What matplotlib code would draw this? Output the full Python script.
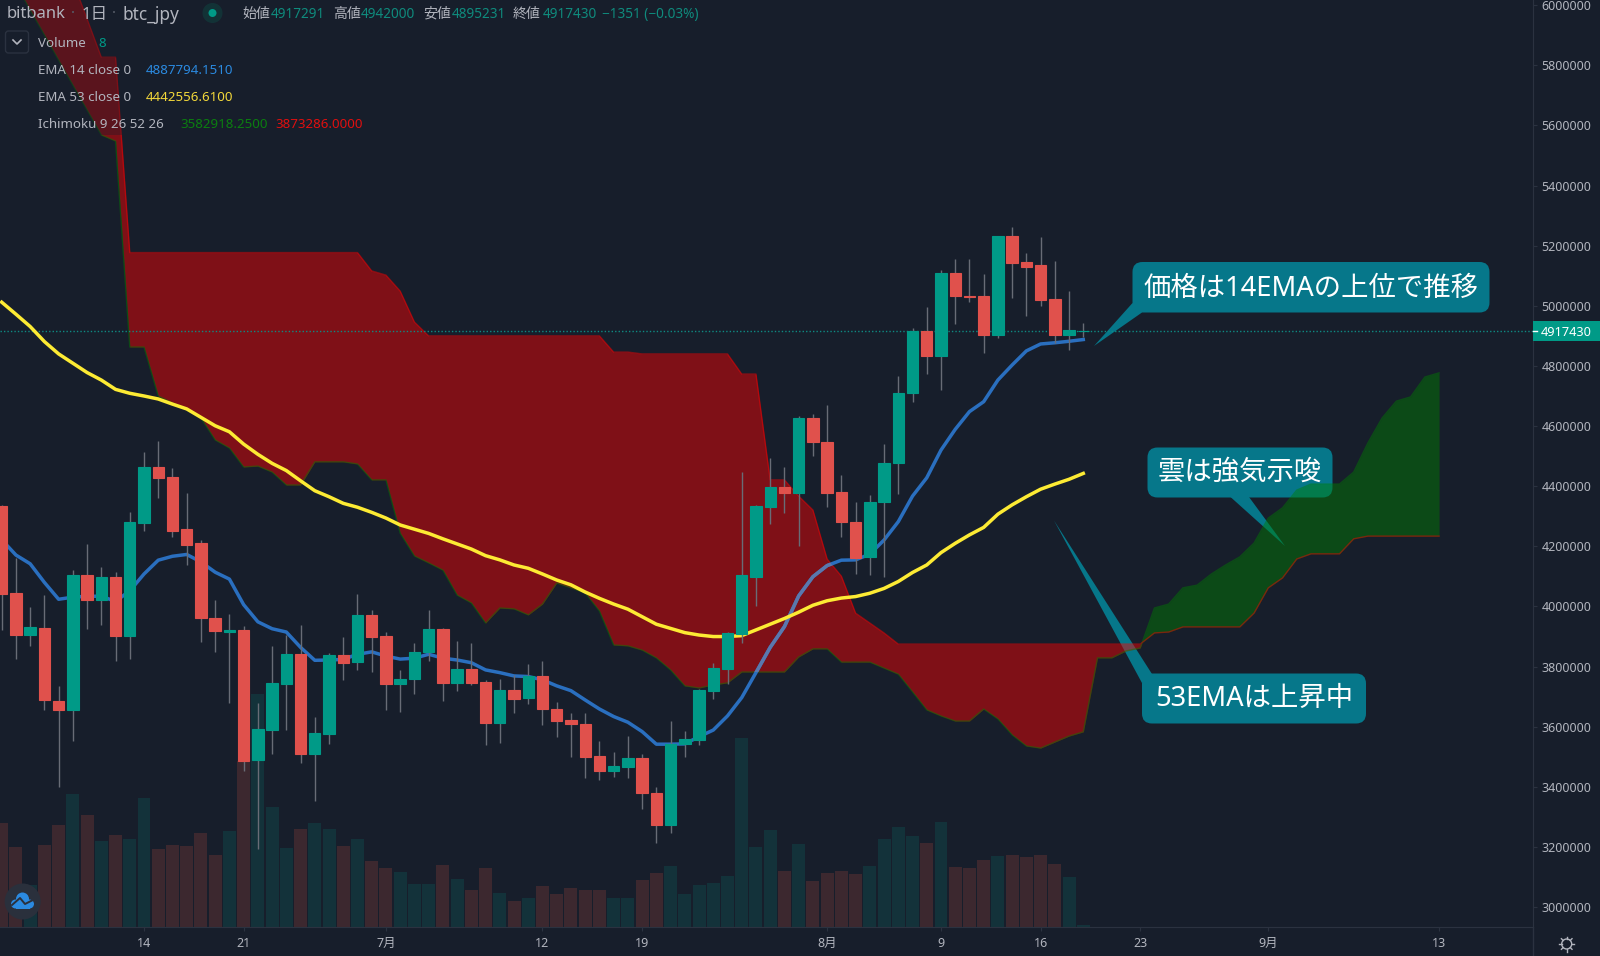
import numpy as np
import matplotlib
matplotlib.use('Agg')
import matplotlib.pyplot as plt
from matplotlib.patches import Circle, FancyBboxPatch, Polygon, Rectangle
from matplotlib.transforms import Affine2D

plt.rcParams['font.family'] = ['Noto Sans', 'Noto Sans CJK JP', 'DejaVu Sans']

# days counted from 14 June, prices in thousand yen
days = np.arange(-10, 67)
opens = [4333, 4046, 3905, 3929, 3685, 3656, 4105, 4022, 4099, 3901,
         4277, 4464, 4429, 4256, 4210, 3963, 3915, 3921, 3489, 3588,
         3743, 3843, 3508, 3576, 3840, 3816, 3971, 3901, 3742, 3758,
         3850, 3924, 3745, 3791, 3749, 3611, 3722, 3695, 3770, 3658,
         3623, 3610, 3503, 3454, 3467, 3495, 3380, 3273, 3543, 3556,
         3719, 3791, 3909, 4099, 4332, 4396, 4377, 4626, 4548, 4380,
         4280, 4166, 4348, 4476, 4711, 4916, 4834, 5108, 5033, 5032,
         4903, 5233, 5146, 5135, 5023, 4903, 4917.291]
highs = [4338, 4160, 3998, 4038, 3735, 4120, 4207, 4131, 4114, 4315,
         4515, 4550, 4461, 4378, 4222, 4020, 3974, 3934, 3679, 3867,
         3904, 3938, 3631, 3845, 3900, 4042, 3988, 3915, 3790, 3877,
         3988, 3930, 3886, 3877, 3756, 3759, 3772, 3809, 3818, 3681,
         3645, 3645, 3551, 3517, 3569, 3508, 3401, 3618, 3586, 3725,
         3811, 3914, 4448, 4338, 4495, 4463, 4634, 4639, 4669, 4437,
         4346, 4370, 4542, 4766, 4925, 4995, 5119, 5155, 5156, 5106,
         5233, 5261, 5175, 5228, 5149, 5049, 4942]
lows = [3921, 3826, 3870, 3657, 3398, 3551, 3924, 3940, 3818, 3824,
        4250, 4362, 4230, 4139, 3881, 3849, 3679, 3452, 3194, 3508,
        3590, 3480, 3353, 3544, 3754, 3788, 3783, 3656, 3650, 3709,
        3817, 3685, 3720, 3739, 3539, 3547, 3645, 3675, 3606, 3567,
        3501, 3429, 3423, 3432, 3430, 3328, 3215, 3246, 3501, 3538,
        3691, 3742, 3877, 4000, 4273, 4310, 4201, 4500, 4332, 4232,
        4108, 4104, 4099, 4373, 4680, 4773, 4720, 4941, 5014, 4842,
        4892, 5027, 4966, 4999, 4875, 4853, 4895.231]
closes = [4042, 3905, 3931, 3690, 3656, 4105, 4020, 4099, 3901, 4280,
          4464, 4427, 4252, 4206, 3961, 3919, 3921, 3486, 3591, 3745,
          3843, 3508, 3578, 3840, 3813, 3971, 3897, 3743, 3759, 3850,
          3924, 3747, 3791, 3747, 3611, 3722, 3692, 3770, 3658, 3620,
          3610, 3501, 3454, 3470, 3495, 3378, 3273, 3544, 3558, 3721,
          3794, 3911, 4104, 4334, 4396, 4377, 4626, 4548, 4379, 4280,
          4162, 4346, 4476, 4711, 4916, 4834, 5108, 5032, 5029, 4903,
          5233, 5143, 5130, 5018, 4903, 4918, 4917.43]
volumes = [104, 80, 42, 82, 102, 133, 112, 86, 92, 88,
           129, 78, 82, 81, 94, 72, 96, 166, 233, 120,
           79, 98, 104, 98, 81, 88, 66, 59, 55, 43,
           43, 62, 48, 37, 59, 34, 26, 29, 41, 33,
           39, 37, 37, 29, 29, 47, 54, 61, 33, 42,
           44, 51, 189, 80, 97, 56, 83, 46, 54, 56,
           53, 61, 88, 100, 91, 84, 105, 60, 59, 67,
           71, 72, 70, 72, 63, 50, 2]
ema14 = [4222, 4171, 4142, 4080, 4024, 4031, 4034, 4034, 4017, 4052,
         4108, 4154, 4167, 4173, 4148, 4114, 4091, 4006, 3949, 3926,
         3915, 3864, 3821, 3822, 3824, 3841, 3849, 3835, 3825, 3828,
         3841, 3828, 3822, 3813, 3789, 3780, 3769, 3767, 3756, 3736,
         3720, 3689, 3659, 3634, 3615, 3584, 3542, 3542, 3543, 3567,
         3589, 3636, 3697, 3780, 3864, 3933, 4035, 4099, 4136, 4154,
         4155, 4174, 4221, 4282, 4367, 4428, 4520, 4589, 4648, 4681,
         4753, 4803, 4850, 4873, 4877, 4882, 4887.794]
ema53 = [5012, 4972, 4931, 4881, 4840, 4809, 4778, 4753, 4722, 4709,
         4700, 4690, 4673, 4657, 4629, 4601, 4581, 4540, 4506, 4476,
         4452, 4418, 4385, 4365, 4343, 4330, 4313, 4294, 4271, 4257,
         4243, 4225, 4208, 4191, 4169, 4155, 4138, 4127, 4108, 4088,
         4072, 4048, 4027, 4008, 3991, 3966, 3941, 3927, 3913, 3905,
         3900, 3900, 3903, 3922, 3941, 3960, 3981, 4004, 4019, 4028,
         4033, 4044, 4060, 4083, 4113, 4138, 4179, 4210, 4238, 4263,
         4307, 4338, 4365, 4390, 4407, 4423, 4442.556]

cloud_days = np.arange(-9, 92)
span_a = [6067, 5984, 5901, 5817, 5734, 5651, 5568, 5548, 4863,
          4863, 4700, 4677, 4657, 4627, 4554, 4527, 4464, 4467, 4447,
          4404, 4404, 4481, 4481, 4481, 4474, 4421, 4421, 4244, 4168,
          4145, 4121, 4038, 4012, 3945, 3995, 3992, 3972, 4008, 4078,
          4062, 4045, 3985, 3872, 3869, 3855, 3829, 3789, 3736, 3729,
          3739, 3746, 3782, 3782, 3782, 3782, 3832, 3859, 3859, 3815,
          3815, 3815, 3795, 3775, 3716, 3656, 3636, 3619, 3619, 3659,
          3626, 3573, 3536, 3529, 3549, 3569, 3583, 3829, 3829, 3852,
          3862, 3995, 4008, 4062, 4071, 4108, 4138, 4165, 4211, 4294,
          4328, 4387, 4407, 4407, 4407, 4447, 4544, 4627, 4683, 4697,
          4763, 4777]
span_b = [6616, 6483, 6350, 6217, 6080, 5954, 5827, 5827, 5177,
          5177, 5177, 5177, 5177, 5177, 5177, 5177, 5177, 5177, 5177,
          5177, 5177, 5177, 5177, 5177, 5177, 5116, 5102, 5049, 4946,
          4900, 4900, 4900, 4900, 4900, 4900, 4900, 4900, 4900, 4900,
          4900, 4900, 4900, 4846, 4846, 4840, 4840, 4840, 4840, 4840,
          4840, 4840, 4773, 4773, 4421, 4421, 4367, 4321, 4158, 4101,
          3978, 3945, 3912, 3875, 3875, 3875, 3875, 3875, 3875, 3875,
          3875, 3875, 3875, 3875, 3875, 3875, 3875, 3875, 3875, 3875,
          3875, 3912, 3915, 3932, 3932, 3932, 3932, 3932, 3978, 4062,
          4095, 4158, 4175, 4175, 4175, 4225, 4234, 4234, 4234, 4234,
          4234, 4234]

y_ticks = np.arange(3000, 6001, 200)
x_ticks = [0, 7, 17, 28, 35, 48, 56, 63, 70, 79, 91]
x_labels = ['14', '21', '7月', '12', '19', '8月', '9', '16', '23', '9月', '13']

BG = '#171e2b'
GREEN = '#009a87'
RED = '#e0514c'
TEXT = '#b2b5be'
GRID = '#2b3240'
CALLOUT = '#06778a'

to_yen = lambda v: np.asarray(v, dtype=float) * 1000
opens, highs, lows, closes = map(to_yen, (opens, highs, lows, closes))
ema14, ema53, span_a, span_b = map(to_yen, (ema14, ema53, span_a, span_b))
up = closes >= opens

fig = plt.figure(figsize=(16, 9.56), dpi=100, facecolor=BG)
rect = [0, 29 / 956, 1533 / 1600, 927 / 956]
xlim = (-10.12, 97.6)

# volume sits in its own axes behind the price axes
ax_vol = fig.add_axes(rect)
ax_vol.axis('off')
ax_vol.bar(days, volumes, width=0.91, color=np.where(up, '#13323a', '#3c282f'))
ax_vol.set_xlim(xlim)
ax_vol.set_ylim(0, 927)

ax = fig.add_axes(rect)
ax.patch.set_visible(False)
ax.set_xlim(xlim)
ax.set_ylim(2934000, 6017000)

# pixel coordinates for the interface parts, origin top left
px = Affine2D().scale(1, -1).translate(0, 956)

callouts = [
    ((1132.5, 262, 357, 50.5), [(1132.5, 303), (1142, 312.5), (1094, 346)],
     '価格は14EMAの上位で推移', 1311, 289),
    ((1147.5, 447.5, 185, 50), [(1230.5, 497), (1249, 497), (1285, 546)],
     '雲は強気示唆', 1240, 473),
    ((1142, 673.5, 224, 50), [(1152, 674), (1142, 683), (1054, 520.5)],
     '53EMAは上昇中', 1254, 699),
]
for (cx, cy, cw, ch), tip, label_text, tx, ty in callouts:
    ax.add_patch(FancyBboxPatch((cx, cy), cw, ch, boxstyle='round,pad=0,rounding_size=10',
                                fc=CALLOUT, ec='none', transform=px, zorder=1))
    ax.add_patch(Polygon(tip, closed=True, fc=CALLOUT, ec='none', transform=px, zorder=1))
    ax.text(tx, ty, label_text, color='white', fontsize=19.7, ha='center', va='center',
            transform=px, zorder=8)

red_cloud = ax.fill_between(cloud_days, span_a, span_b, where=span_b >= span_a, interpolate=True,
                            color='#ff0000', alpha=0.45, lw=0, zorder=2)
ax.fill_between(cloud_days, span_a, span_b, where=span_a >= span_b, interpolate=True,
                color='#008000', alpha=0.45, lw=0, zorder=2)
ax.plot(cloud_days, span_a, color='#008000', alpha=0.45, lw=1, zorder=2.1)
ax.plot(cloud_days, span_b, color='#ff0000', alpha=0.45, lw=1, zorder=2.1)

ax.axhline(closes[-1], color='#0e8a82', lw=1, ls=(0, (1, 1.5)), zorder=2.5)

ax.plot(days, ema14, color='#2a6fbf', lw=2.5, solid_joinstyle='round', zorder=3)
# the blue line reads paler where it crosses the red cloud
pale, = ax.plot(days, ema14, color='#5b78ad', lw=2.5, zorder=3.1)
pale.set_clip_path(red_cloud.get_paths()[0], red_cloud.get_transform())
ax.plot(days, ema53, color='#fdeb34', lw=2.5, solid_joinstyle='round', zorder=3.2)

ax.vlines(days, lows, highs, color='#686c76', lw=1, zorder=4)
body_color = np.where(up, GREEN, RED)
ax.bar(days, closes - opens, bottom=opens, width=0.8, color=body_color,
       edgecolor=body_color, lw=0.8, zorder=5)

for side in ('top', 'left'):
    ax.spines[side].set_visible(False)
for side in ('right', 'bottom'):
    ax.spines[side].set_color(GRID)
ax.yaxis.tick_right()
ax.set_yticks(y_ticks * 1000, [str(v * 1000) for v in y_ticks])
ax.set_xticks(x_ticks, x_labels)
ax.tick_params(axis='y', colors=TEXT, color=GRID, labelsize=9, length=3, pad=3)
ax.tick_params(axis='x', colors=TEXT, color=GRID, labelsize=9, length=3, pad=4)

# last price tag
ax.add_patch(Rectangle((1533, 321), 67, 20, fc=GREEN, ec='none', transform=px,
                       clip_on=False, zorder=6))
ax.plot([1533, 1537], [331, 331], color='white', lw=1, transform=px, clip_on=False, zorder=7)
ax.text(1541, 332, '4917430', color='white', fontsize=9.2, va='center', transform=px, zorder=7)

# header and legend, over a dimming panel
ax.add_patch(Rectangle((0, 0), 400, 135, fc=BG, ec='none', alpha=0.35, transform=px, zorder=6))


def label(x, y, s, color=TEXT, size=9.6):
    ax.text(x, y + 1.5, s, color=color, fontsize=size, va='center', transform=px, zorder=8)


label(7, 13, 'bitbank', size=12)
label(82, 13, '1日', size=12)
label(122, 13, 'btc_jpy', size=12.4)
for dot_x in (73, 114):
    ax.add_patch(Circle((dot_x, 12), 1, fc='#555a66', transform=px, zorder=8))
ax.add_patch(Circle((212.5, 13), 10, fc='#10403f', alpha=0.6, transform=px, zorder=7))
ax.add_patch(Circle((212.5, 13), 4, fc=GREEN, transform=px, zorder=8))

TEAL = '#0f8b7d'
ohlc = [(242, '始値', 271, '4917291'), (333, '高値', 361, '4942000'),
        (423, '安値', 452, '4895231'), (513, '終値', 543, '4917430')]
for lx, name, vx, value in ohlc:
    label(lx, 13, name, size=10)
    label(vx, 13, value, color=TEAL, size=9.8)
label(602, 13, '−1351 (−0.03%)', color=TEAL, size=9.8)

ax.add_patch(FancyBboxPatch((5.5, 31), 23, 22, boxstyle='round,pad=0,rounding_size=3',
                            fc=BG, ec=GRID, lw=1, transform=px, zorder=7))
ax.plot([13, 17, 21], [40, 44, 40], color=TEXT, lw=1.2, transform=px, zorder=8)
label(37.5, 42, 'Volume')
label(98.5, 42, '8', color=GREEN)
label(37.5, 69, 'EMA 14 close 0')
label(146, 69, '4887794.1510', color='#2b8ae0')
label(37.5, 96, 'EMA 53 close 0')
label(146, 96, '4442556.6100', color='#f3d83a')
label(37.5, 123, 'Ichimoku 9 26 52 26')
label(180, 123, '3582918.2500', color='#0b7e10')
label(275.5, 123, '3873286.0000', color='#e00f0f')

# round badge bottom left
ax.add_patch(Circle((22.7, 901.5), 18, fc='#2a303c', transform=px, zorder=7))
for bx, by, br in ((15.5, 904, 4.5), (22.5, 899, 6.5), (29.5, 904, 4.5)):
    ax.add_patch(Circle((bx, by), br, fc='#2b8ae0', transform=px, zorder=8))
ax.add_patch(Rectangle((15.5, 903), 14, 5.5, fc='#2b8ae0', transform=px, zorder=8))
ax.plot([12, 20, 25, 33], [905, 898, 904, 900], color='#2a303c', lw=1.4, transform=px, zorder=9)

# settings gear
ax.add_patch(Circle((1566.7, 944), 5, fc='none', ec=TEXT, lw=1, transform=px, clip_on=False, zorder=7))
for a in np.arange(8) * np.pi / 4:
    ax.plot([1566.7 + 5 * np.cos(a), 1566.7 + 7.5 * np.cos(a)],
            [944 + 5 * np.sin(a), 944 + 7.5 * np.sin(a)],
            color=TEXT, lw=1, transform=px, clip_on=False, zorder=7)
ax.plot([1533, 1533], [927, 956], color=GRID, lw=1, transform=px, clip_on=False, zorder=6)

fig.savefig('out.png', dpi=100, facecolor=BG)
